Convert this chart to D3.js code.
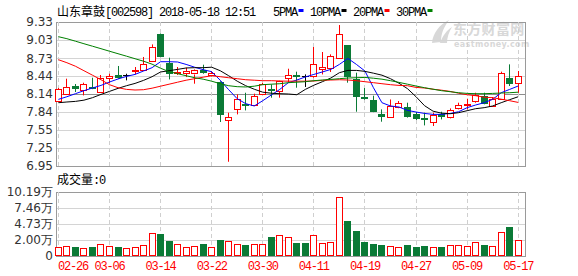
<!DOCTYPE html>
<html><head><meta charset="utf-8">
<script src="https://cdn.jsdelivr.net/npm/d3@7"></script>
<style>body{margin:0;background:#fff}svg{display:block}text{white-space:pre}</style>
</head><body><svg id="c" width="578" height="276"></svg>
<script>
// ---------- DATA ----------
const title = "山东章鼓[002598] 2018-05-18 12:51";
const volTitle = "成交量:0";
const maNames = ["5PMA", "10PMA", "20PMA", "30PMA"];
const dates = ["02-26","02-27","02-28","03-01","03-02","03-05","03-06","03-07","03-08","03-09",
  "03-12","03-13","03-14","03-15","03-16","03-19","03-20","03-21","03-22","03-23",
  "03-26","03-27","03-28","03-29","03-30","04-02","04-03","04-04","04-09","04-10",
  "04-11","04-12","04-13","04-16","04-17","04-18","04-19","04-20","04-23","04-24",
  "04-25","04-26","04-27","05-02","05-03","05-04","05-07","05-08","05-09","05-10",
  "05-11","05-14","05-15","05-16","05-17"];
const open = [8.024,8.14,8.272,8.20,8.261,8.183,8.409,8.454,8.454,8.514,
  8.537,8.685,9.137,8.657,8.48,8.492,8.475,8.537,8.442,8.343,
  7.71,7.886,7.98,7.959,8.133,8.216,8.19,8.409,8.447,8.432,
  8.437,8.563,8.575,8.74,8.944,8.393,8.09,8.046,7.803,7.76,
  7.914,7.926,7.803,7.748,7.677,7.803,7.76,7.897,7.959,8.024,
  8.107,7.942,8.062,8.409,8.315];
const close = [8.228,8.256,8.216,8.305,8.223,8.409,8.442,8.409,8.454,8.537,
  8.636,8.917,8.756,8.475,8.50,8.525,8.53,8.487,8.48,7.803,
  7.765,8.057,7.952,8.107,8.299,8.183,8.355,8.454,8.437,8.432,
  8.641,8.591,8.768,9.137,8.409,8.095,8.074,7.847,7.76,7.942,
  7.985,7.76,7.72,7.71,7.786,7.76,7.869,7.952,7.98,8.123,
  7.98,8.05,8.492,8.315,8.437];
const high = [8.24,8.393,8.305,8.327,8.409,8.454,8.475,8.603,8.475,8.586,
  8.752,8.96,9.14,8.74,8.586,8.575,8.546,8.624,8.52,8.35,
  7.831,8.133,8.161,8.145,8.327,8.299,8.36,8.558,8.509,8.464,
  8.917,8.834,8.795,9.28,8.944,8.492,8.239,8.112,7.886,8.05,
  8.024,7.996,7.843,7.831,7.831,7.847,7.902,7.996,8.062,8.161,
  8.161,8.09,8.509,8.63,8.52];
const low = [8.02,8.123,8.173,8.117,8.22,8.18,8.315,8.393,8.365,8.464,
  8.52,8.669,8.75,8.381,8.455,8.42,8.31,8.475,8.44,7.677,
  7.02,7.803,7.869,7.95,8.13,8.079,8.079,8.327,8.244,8.256,
  8.409,8.464,8.504,8.73,8.327,7.847,8.046,7.84,7.682,7.76,
  7.897,7.75,7.71,7.621,7.611,7.72,7.737,7.89,7.886,7.996,
  7.97,7.94,8.05,8.272,8.16];
const volume = [1.47,1.63,1.47,1.27,1.47,1.90,1.63,1.47,1.27,1.47,
  1.74,3.60,3.54,2.38,1.90,1.47,1.55,1.90,1.43,2.54,
  2.32,1.85,1.74,1.85,1.85,3.01,3.27,3.01,2.06,2.06,
  3.27,2.06,2.17,9.46,5.55,3.96,2.27,1.90,1.74,1.63,
  1.43,1.74,1.43,1.58,1.43,1.43,1.74,1.74,1.58,2.17,
  1.74,1.58,3.75,4.60,2.49];
const ma5 = [8.051,8.095,8.145,8.195,8.239,8.282,8.338,8.388,8.431,8.464,
  8.520,8.575,8.674,8.674,8.669,8.629,8.583,8.542,8.509,8.368,
  8.211,8.062,7.980,7.942,8.029,8.123,8.216,8.327,8.371,8.421,
  8.464,8.504,8.547,8.629,8.728,8.629,8.520,8.244,7.996,7.942,
  7.925,7.869,7.842,7.819,7.803,7.803,7.819,7.847,7.914,7.958,
  7.996,8.051,8.161,8.216,8.272];
const ma10 = [7.996,8.008,8.018,8.038,8.079,8.133,8.183,8.233,8.277,8.315,
  8.365,8.426,8.504,8.525,8.547,8.570,8.575,8.575,8.583,8.525,
  8.442,8.352,8.277,8.219,8.170,8.153,8.145,8.140,8.128,8.216,
  8.285,8.343,8.404,8.492,8.530,8.530,8.514,8.484,8.451,8.393,
  8.318,8.228,8.095,7.947,7.856,7.823,7.814,7.831,7.864,7.897,
  7.914,7.942,7.996,8.046,8.095];
const ma20 = [8.707,8.657,8.599,8.525,8.451,8.376,8.294,8.244,8.216,8.206,
  8.211,8.236,8.269,8.302,8.335,8.368,8.393,8.418,8.442,8.426,
  8.409,8.393,8.376,8.368,8.360,8.360,8.355,8.352,8.352,8.352,
  8.355,8.365,8.371,8.376,8.371,8.360,8.343,8.327,8.310,8.294,
  8.282,8.277,8.249,8.239,8.219,8.203,8.183,8.153,8.128,8.112,
  8.087,8.079,8.054,8.029,8.001];
const ma30 = [9.087,9.054,9.013,8.971,8.930,8.889,8.847,8.806,8.765,8.723,
  8.682,8.633,8.566,8.509,8.476,8.442,8.409,8.385,8.352,8.310,
  8.277,8.261,8.256,8.269,8.294,8.302,8.310,8.327,8.335,8.343,
  8.360,8.371,8.381,8.393,8.404,8.409,8.414,8.401,8.385,8.360,
  8.332,8.302,8.272,8.244,8.219,8.195,8.178,8.161,8.150,8.145,
  8.145,8.150,8.156,8.161,8.170];
const priceTicks = ["9.33","9.03","8.73","8.44","8.14","7.84","7.55","7.25","6.95"];
const refPrice = "8.14";
const volTicks = ["10.19万","7.46万","4.73万","2.00万","0"];
const volMax = 10.19;
const dateTicks = ["02-26","03-06","03-14","03-22","03-30","04-11","04-19","04-27","05-09","05-17"];

// ---------- LAYOUT / STYLE ----------
const L = 56, R = 525, PT = 22, PB = 166, VT = 192, VB = 256;
const RED = "#ff0000", GREEN = "#0a7a36", BLACK = "#000";
const maColors = ["#0000ff", "#000000", "#ff0000", "#008000"];
const svg = d3.select("#c");

const x = d3.scalePoint().domain(dates).range([58.4, 518.2]);
const y = d3.scaleLinear().domain([+priceTicks[priceTicks.length-1], +priceTicks[0]]).range([PB, PT]);
const yv = d3.scaleLinear().domain([0, volMax]).range([VB, VT]);
const yvt = d3.scalePoint().domain(volTicks).range([VT, VB]);
const h = v => Math.round(v) + 0.5;
const cxOf = d => Math.floor(x(d)) + 0.5;

function richText(g, str, tx, ty) {
  const t = g.append("text").attr("x", tx).attr("y", ty).attr("font-size", 12).attr("fill", "#000");
  const runs = str.match(/[\u3000-\u9fff\uff00-\uffef]+|[^\u3000-\u9fff\uff00-\uffef]+/g);
  runs.forEach(r => {
    const cjk = /[\u3000-\u9fff\uff00-\uffef]/.test(r);
    t.append("tspan").text(r)
      .attr("font-family", cjk ? "Noto Sans CJK SC" : "Liberation Mono")
      .attr("letter-spacing", cjk ? 0 : -1.2);
  });
  return t;
}

// watermark
const wm = svg.append("g").attr("fill", "#d8d8d8");
wm.append("path").attr("d", "M432,43 C433,33 439,25 449,20 C444,27 441,33 441,42 Z M440,43 C443,35 447,30 452,27 C449,32 447,37 447,43 Z");
wm.append("text").attr("x", 453).attr("y", 34).attr("font-family", "Noto Sans CJK SC")
  .attr("font-weight", "bold").attr("font-size", 14).attr("letter-spacing", 0.3).text("东方财富网");
wm.append("text").attr("x", 454).attr("y", 47).attr("font-family", "DejaVu Sans")
  .attr("font-weight", "bold").attr("font-size", 8).attr("letter-spacing", 0.4).text("eastmoney.com");

// ---------- GRID ----------
const grid = svg.append("g");
priceTicks.forEach(t => {
  const yy = h(y(+t));
  grid.append("line").attr("x1", L).attr("x2", R).attr("y1", yy).attr("y2", yy)
    .attr("stroke", t === refPrice ? "#8c8c8c" : (t === priceTicks[0] || t === priceTicks[priceTicks.length-1]) ? "#9a9a9a" : "#d4d4d4");
});
volTicks.forEach(t => {
  const yy = h(yvt(t));
  grid.append("line").attr("x1", L).attr("x2", R).attr("y1", yy).attr("y2", yy)
    .attr("stroke", (t === volTicks[0] || t === volTicks[volTicks.length-1]) ? "#9a9a9a" : "#d4d4d4");
});
dateTicks.forEach(d => {
  const xx = cxOf(d);
  [[PT, PB], [VT, VB]].forEach(([a, b]) => grid.append("line").attr("x1", xx).attr("x2", xx)
    .attr("y1", a).attr("y2", b).attr("stroke", "#cfcfcf").attr("stroke-dasharray", "4,3"));
});
[[PT, PB], [VT, VB]].forEach(([a, b]) => {
  grid.append("line").attr("x1", L + 0.5).attr("x2", L + 0.5).attr("y1", a).attr("y2", b).attr("stroke", "#9a9a9a");
  grid.append("line").attr("x1", R + 0.5).attr("x2", R + 0.5).attr("y1", a).attr("y2", b + 1).attr("stroke", "#9a9a9a");
});

// ---------- AXIS LABELS ----------
const ax = svg.append("g").attr("font-family", "DejaVu Sans").attr("font-size", 12).attr("fill", "#333");
priceTicks.forEach(t => ax.append("text").attr("x", 53).attr("y", y(+t)).attr("dy", "0.36em")
  .attr("text-anchor", "end").text(t));
volTicks.forEach(t => ax.append("text").attr("x", 53).attr("y", yvt(t)).attr("dy", "0.36em")
  .attr("text-anchor", "end").text(t));
dateTicks.forEach((d, k) => {
  const t = richText(svg, d, k === 0 ? 58 : x(d), 270);
  t.attr("fill", RED).attr("text-anchor", k === 0 ? "start" : "middle");
});

// ---------- CANDLES ----------
const cg = svg.append("g");
dates.forEach((d, i) => {
  const cx = cxOf(d);
  const o = open[i], c = close[i];
  const up = c > o, flat = c === o;
  const col = flat ? BLACK : up ? RED : GREEN;
  const yTop = y(Math.max(o, c)), yBot = y(Math.min(o, c));
  if (flat || yBot - yTop < 1.5) {
    cg.append("line").attr("x1", cx).attr("x2", cx).attr("y1", y(high[i])).attr("y2", y(low[i])).attr("stroke", col);
    const yy = h(yTop);
    cg.append("rect").attr("x", cx - 3.5).attr("y", yy - 0.5).attr("width", 7).attr("height", Math.max(1, Math.round(yBot - yTop) + 1)).attr("fill", col);
  } else if (up) {
    cg.append("line").attr("x1", cx).attr("x2", cx).attr("y1", y(high[i])).attr("y2", h(yTop)).attr("stroke", col);
    cg.append("line").attr("x1", cx).attr("x2", cx).attr("y1", h(yBot)).attr("y2", y(low[i])).attr("stroke", col);
    cg.append("rect").attr("x", cx - 3).attr("y", h(yTop)).attr("width", 6).attr("height", Math.round(yBot - yTop))
      .attr("fill", "#fff").attr("stroke", col);
  } else {
    cg.append("line").attr("x1", cx).attr("x2", cx).attr("y1", y(high[i])).attr("y2", y(low[i])).attr("stroke", col);
    cg.append("rect").attr("x", cx - 3.5).attr("y", Math.round(yTop)).attr("width", 7).attr("height", Math.max(1, Math.round(yBot - yTop)))
      .attr("fill", col);
  }
});

// ---------- MA LINES ----------
[ma5, ma10, ma20, ma30].forEach((arr, k) => {
  const line = d3.line().x((v, i) => x(dates[i])).y(v => y(v));
  svg.append("path").attr("d", line(arr)).attr("fill", "none").attr("stroke", maColors[k]).attr("stroke-width", 1);
});

// ---------- VOLUME ----------
const vg = svg.append("g");
dates.forEach((d, i) => {
  const cx = cxOf(d);
  const prev = i > 0 ? close[i - 1] : open[i];
  const up = close[i] > open[i] || (close[i] === open[i] && close[i] >= prev);
  const top = Math.round(yv(volume[i]));
  if (up) {
    vg.append("rect").attr("x", cx - 3).attr("y", top + 0.5).attr("width", 6).attr("height", VB - top - 1)
      .attr("fill", "#fff").attr("stroke", RED);
  } else {
    vg.append("rect").attr("x", cx - 3.5).attr("y", top).attr("width", 7).attr("height", VB - top).attr("fill", GREEN);
  }
});

// ---------- HEADER / LEGEND ----------
richText(svg, title, 57, 16);
richText(svg, volTitle, 57, 184);
let lx = 273;
maNames.forEach((n, k) => {
  richText(svg, n, lx, 16);
  lx += n.length * 6 + 1.5;
  svg.append("rect").attr("x", lx).attr("y", 9).attr("width", 5).attr("height", 3).attr("fill", maColors[k]);
  lx += 5 + 6.5;
});
</script></body></html>
